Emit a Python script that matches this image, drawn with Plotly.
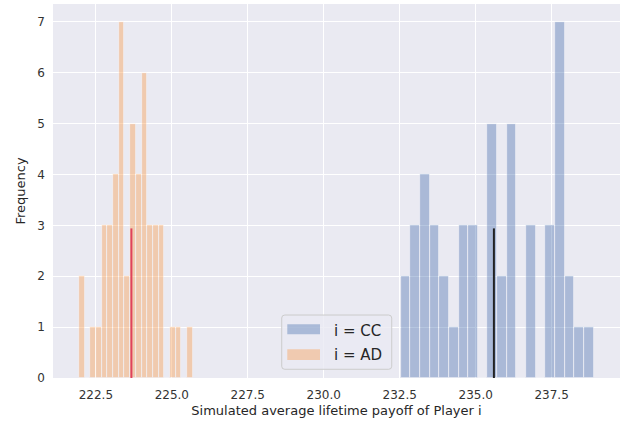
import numpy as np
import plotly.graph_objects as go

# Histogram bin counts (20 equal-width bins between the sample min and max)
cc_counts = [2, 3, 4, 3, 2, 1, 3, 3, 0, 5, 2, 5, 0, 3, 0, 3, 7, 2, 1, 1]
cc_min, cc_max = 232.53, 238.88
cc_mean = 235.60

ad_counts = [2, 0, 1, 1, 3, 3, 4, 7, 2, 5, 4, 6, 3, 3, 3, 0, 1, 1, 0, 1]
ad_min, ad_max = 221.94, 225.69
ad_mean = 223.67

x_ticks = [222.5, 225.0, 227.5, 230.0, 232.5, 235.0, 237.5]
y_ticks = [0, 1, 2, 3, 4, 5, 6, 7]

BLUE = "#4C72B0"
ORANGE = "#F99B4B"
BG = "#EAEAF2"
FONT = "DejaVu Sans"


def hist_trace(counts, lo, hi, color, name):
    edges = np.linspace(lo, hi, len(counts) + 1)
    centers = (edges[:-1] + edges[1:]) / 2
    widths = np.diff(edges)
    return go.Bar(
        x=centers, y=counts, width=widths, name=name,
        marker=dict(color=color, line=dict(color="white", width=0.7)),
        opacity=0.4, showlegend=False,
    )


fig = go.Figure()
fig.add_trace(hist_trace(cc_counts, cc_min, cc_max, BLUE, "i = CC"))
fig.add_trace(hist_trace(ad_counts, ad_min, ad_max, ORANGE, "i = AD"))

# Mean markers, drawn up to 40% of the axis height
fig.add_shape(type="line", xref="x", yref="paper", x0=ad_mean, x1=ad_mean,
              y0=0, y1=0.4, line=dict(color="#E0435C", width=2))
fig.add_shape(type="line", xref="x", yref="paper", x0=cc_mean, x1=cc_mean,
              y0=0, y1=0.4, line=dict(color="#222222", width=2))

# Legend box (rounded frame) with patch swatches
x0, x1, y0, y1 = 0.4034, 0.5974, 0.0233, 0.1684
rx, ry = 0.0055, 0.008
path = (f"M {x0+rx},{y0} L {x1-rx},{y0} Q {x1},{y0} {x1},{y0+ry} "
        f"L {x1},{y1-ry} Q {x1},{y1} {x1-rx},{y1} L {x0+rx},{y1} "
        f"Q {x0},{y1} {x0},{y1-ry} L {x0},{y0+ry} Q {x0},{y0} {x0+rx},{y0} Z")
fig.add_shape(type="path", xref="paper", yref="paper", path=path,
              fillcolor="rgba(234,234,242,0.8)", line=dict(color="#CCCCCC", width=1))

legend_items = [("i = CC", BLUE, 0.1168, 0.1436, 0.1265),
                ("i = AD", ORANGE, 0.0481, 0.0767, 0.0615)]
for label, color, py0, py1, ty in legend_items:
    fig.add_shape(type="rect", xref="paper", yref="paper",
                  x0=0.4132, x1=0.4709, y0=py0, y1=py1,
                  fillcolor=color, opacity=0.4, line=dict(width=0))
    fig.add_annotation(xref="paper", yref="paper", x=0.4915, y=ty, text=label,
                       showarrow=False, xanchor="left", yanchor="middle",
                       font=dict(family=FONT, size=15, color="#262626"))

fig.update_layout(
    width=620, height=423,
    margin=dict(l=53, r=0, t=4, b=45),
    plot_bgcolor=BG, paper_bgcolor="white",
    bargap=0, barmode="overlay",
    font=dict(family=FONT, size=12, color="#333333"),
)
fig.update_xaxes(
    range=[221.09, 239.75], tickvals=x_ticks,
    ticktext=[f"{v:.1f}" for v in x_ticks],
    showgrid=True, gridcolor="white", gridwidth=1.3,
    zeroline=False, showline=False, ticks="", ticklabelstandoff=8,
    title=dict(text="Simulated average lifetime payoff of Player i",
               font=dict(family=FONT, size=13, color="#262626"), standoff=4),
)
fig.update_yaxes(
    range=[0, 7.35], tickvals=y_ticks,
    showgrid=True, gridcolor="white", gridwidth=1.3,
    zeroline=False, showline=False, ticks="", ticklabelstandoff=7,
    title=dict(text="Frequency",
               font=dict(family=FONT, size=13, color="#262626"), standoff=8),
)

fig.write_html("out.html")
